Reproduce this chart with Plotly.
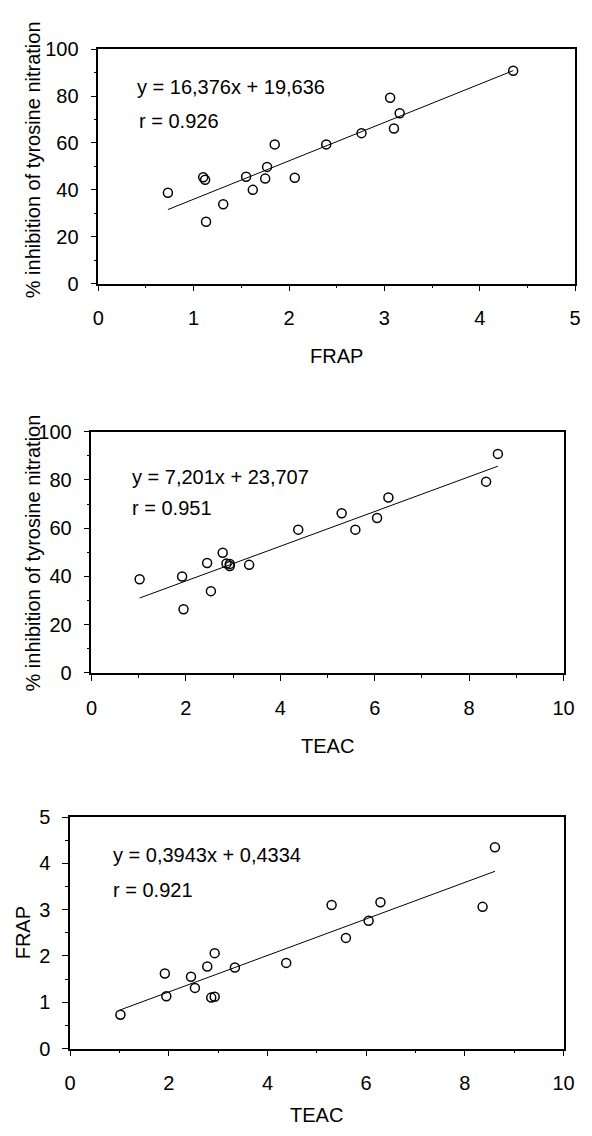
import plotly.graph_objects as go

# ---- data (17 samples) ----
teac = [1.02, 1.92, 1.95, 2.45, 2.53, 2.78, 2.86, 2.93, 2.93, 3.34, 4.38, 5.30, 5.59, 6.05, 6.29, 8.36, 8.61]
frap = [0.73, 1.62, 1.13, 1.55, 1.31, 1.77, 1.10, 1.12, 2.06, 1.75, 1.85, 3.10, 2.39, 2.76, 3.16, 3.06, 4.35]
inhibition = [38.8, 40.0, 26.4, 45.6, 33.9, 49.8, 45.4, 44.3, 45.2, 44.8, 59.4, 66.2, 59.4, 64.2, 72.7, 79.3, 90.8]

fits = {
    "p1": dict(slope=16.376, intercept=19.636, eq="y = 16,376x + 19,636", r="r = 0.926"),
    "p2": dict(slope=7.201, intercept=23.707, eq="y = 7,201x + 23,707", r="r = 0.951"),
    "p3": dict(slope=0.3943, intercept=0.4334, eq="y = 0,3943x + 0,4334", r="r = 0.921"),
}

x_titles = ["FRAP", "TEAC", "TEAC"]
y_titles = ["% inhibition of tyrosine nitration", "% inhibition of tyrosine nitration", "FRAP"]

W, H = 592, 1136
FONT = "Liberation Sans, Arial, sans-serif"


def px(x):
    return x / W


def py(y):
    return 1 - y / H


# panel boxes in pixels: left, right, top, bottom
boxes = [(95, 586, 39, 278), (88, 574, 429, 675), (66, 574, 822, 1058)]
panels = [
    (frap, inhibition, fits["p1"], [0, 5], 1, 0.5, [0, 100], 20, 10),
    (teac, inhibition, fits["p2"], [0, 10], 2, 1, [0, 100], 20, 10),
    (teac, frap, fits["p3"], [0, 10], 2, 1, [0, 5], 1, 0.5),
]
eq_pos = [((133, 78), (135, 112)), ((128, 475), (128, 507)), ((108, 861), (108, 896))]
xt_pos = [(340, 352), (331, 750), (320, 1126)]
yt_pos = [(28, 152), (28, 553), (17, 940)]

fig = go.Figure()
annotations = []
for i, (xs, ys, fit, xr, xd, xminor, yr, yd, yminor) in enumerate(panels):
    n = "" if i == 0 else str(i + 1)
    xa, ya = "x" + n, "y" + n
    fig.add_trace(go.Scatter(
        x=xs, y=ys, mode="markers", xaxis=xa, yaxis=ya,
        marker=dict(symbol="circle-open", size=9, color="black", line=dict(width=1.5, color="black")),
        showlegend=False, hoverinfo="skip"))
    x0, x1 = min(xs), max(xs)
    fig.add_trace(go.Scatter(
        x=[x0, x1], y=[fit["slope"] * x0 + fit["intercept"], fit["slope"] * x1 + fit["intercept"]],
        mode="lines", xaxis=xa, yaxis=ya, line=dict(color="black", width=1),
        showlegend=False, hoverinfo="skip"))
    l, r, t, b = boxes[i]
    common = dict(showline=True, linecolor="black", linewidth=1.5, mirror=True,
                  showgrid=False, zeroline=False, ticks="outside", ticklen=6,
                  tickwidth=1, tickcolor="black",
                  tickfont=dict(family=FONT, size=20, color="black"))
    fig.update_layout(**{
        "xaxis" + n: dict(domain=[px(l), px(r)], range=xr, dtick=xd, tick0=0,
                          anchor=ya, ticklabelstandoff=10,
                          minor=dict(ticks="outside", ticklen=3, dtick=xminor, tickcolor="black"),
                          **common),
        "yaxis" + n: dict(domain=[py(b), py(t)], range=yr, dtick=yd, tick0=0,
                          anchor=xa, ticklabelstandoff=8,
                          minor=dict(ticks="outside", ticklen=3, dtick=yminor, tickcolor="black"),
                          **common),
    })
    (ex, ey), (rx, ry) = eq_pos[i]
    annotations.append(dict(x=px(ex), y=py(ey), xref="paper", yref="paper", text=fit["eq"],
                            showarrow=False, xanchor="left", yanchor="middle",
                            font=dict(family=FONT, size=20, color="black")))
    annotations.append(dict(x=px(rx), y=py(ry), xref="paper", yref="paper", text=fit["r"],
                            showarrow=False, xanchor="left", yanchor="middle",
                            font=dict(family=FONT, size=20, color="black")))
    tx, ty = xt_pos[i]
    annotations.append(dict(x=px(tx), y=py(ty), xref="paper", yref="paper", text=x_titles[i],
                            showarrow=False, xanchor="center", yanchor="middle",
                            font=dict(family=FONT, size=20, color="black")))
    yx, yy = yt_pos[i]
    annotations.append(dict(x=px(yx), y=py(yy), xref="paper", yref="paper", text=y_titles[i],
                            showarrow=False, xanchor="center", yanchor="middle", textangle=-90,
                            font=dict(family=FONT, size=20, color="black")))

fig.update_layout(width=W, height=H, margin=dict(l=0, r=0, t=0, b=0),
                  paper_bgcolor="white", plot_bgcolor="white",
                  annotations=annotations)
fig.write_html("out.html", config={"displayModeBar": False},
               post_script="document.body.style.margin='0';document.body.style.overflow='hidden';")
